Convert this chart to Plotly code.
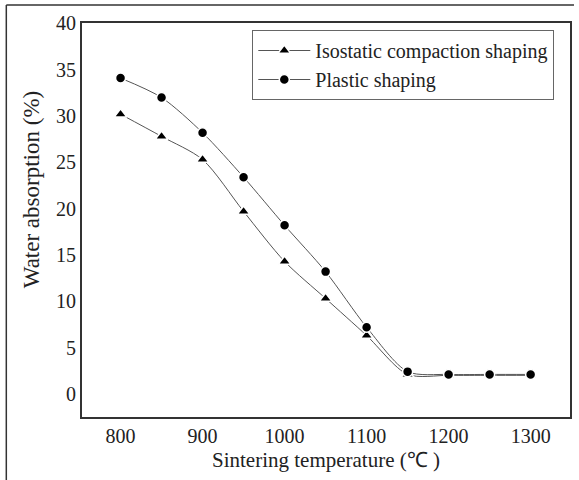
import plotly.graph_objects as go

temps = [800, 850, 900, 950, 1000, 1050, 1100, 1150, 1200, 1250, 1300]
isostatic = [30.2, 27.8, 25.3, 19.7, 14.3, 10.3, 6.3, 2.1, 2.0, 2.0, 2.0]
plastic = [34.1, 32.0, 28.2, 23.4, 18.2, 13.2, 7.2, 2.4, 2.1, 2.1, 2.1]
x_ticks = [800, 900, 1000, 1100, 1200, 1300]
y_ticks = [0, 5, 10, 15, 20, 25, 30, 35, 40]

FONT = "Liberation Serif, Times New Roman, serif"
W, H = 579, 480
ML, MR, MT, MB = 82, 7, 23, 63
PW, PH = W - ML - MR, H - MT - MB

fig = go.Figure()
fig.add_trace(go.Scatter(
    x=temps, y=isostatic, name="Isostatic compaction shaping",
    mode="lines+markers",
    line=dict(color="#555555", width=1, shape="spline", smoothing=0.8),
    marker=dict(symbol="triangle-up", size=11, color="black",
                line=dict(color="white", width=1.5)),
))
fig.add_trace(go.Scatter(
    x=temps, y=plastic, name="Plastic shaping",
    mode="lines+markers",
    line=dict(color="#555555", width=1, shape="spline", smoothing=0.8),
    marker=dict(symbol="circle", size=10, color="black",
                line=dict(color="white", width=1.5)),
))

def px2paper_x(px):
    return (px - ML) / PW

def px2paper_y(py):
    return (H - MB - py) / PH

fig.update_layout(
    width=W, height=H,
    margin=dict(l=ML, r=MR, t=MT, b=MB),
    paper_bgcolor="white", plot_bgcolor="white",
    font=dict(family=FONT, size=20, color="#222222"),
    showlegend=True,
    legend=dict(
        x=px2paper_x(253), y=px2paper_y(30), xanchor="left", yanchor="top",
        bordercolor="#666666", borderwidth=1, bgcolor="white",
        font=dict(family=FONT, size=20, color="#222222"),
        tracegroupgap=0, itemwidth=52,
    ),
    xaxis=dict(
        range=[753, 1348], tickvals=x_ticks, ticks="", showgrid=False,
        zeroline=False, showline=True, linecolor="#333333", linewidth=2,
        mirror=True, tickfont=dict(family=FONT, size=20),
        title=dict(text="Sintering temperature (℃ )",
                   font=dict(family=FONT, size=21), standoff=6),
    ),
    yaxis=dict(
        range=[-2.5, 40.05], tickvals=y_ticks, ticks="", showgrid=False,
        zeroline=False, showline=True, linecolor="#333333", linewidth=2,
        mirror=True, tickfont=dict(family=FONT, size=20),
    ),
    annotations=[
        dict(text="Water absorption (%)", xref="paper", yref="paper",
             x=px2paper_x(31), y=px2paper_y(190), xanchor="center",
             yanchor="middle", textangle=-90, showarrow=False,
             font=dict(family=FONT, size=23, color="#222222")),
    ],
    shapes=[
        dict(type="line", xref="paper", yref="paper",
             x0=px2paper_x(6), x1=px2paper_x(6), y0=px2paper_y(5), y1=px2paper_y(485),
             line=dict(color="#333333", width=1.5)),
        dict(type="line", xref="paper", yref="paper",
             x0=px2paper_x(6), x1=px2paper_x(576), y0=px2paper_y(5), y1=px2paper_y(5),
             line=dict(color="#333333", width=1.5)),
    ],
)

fig.write_html("out.html")
